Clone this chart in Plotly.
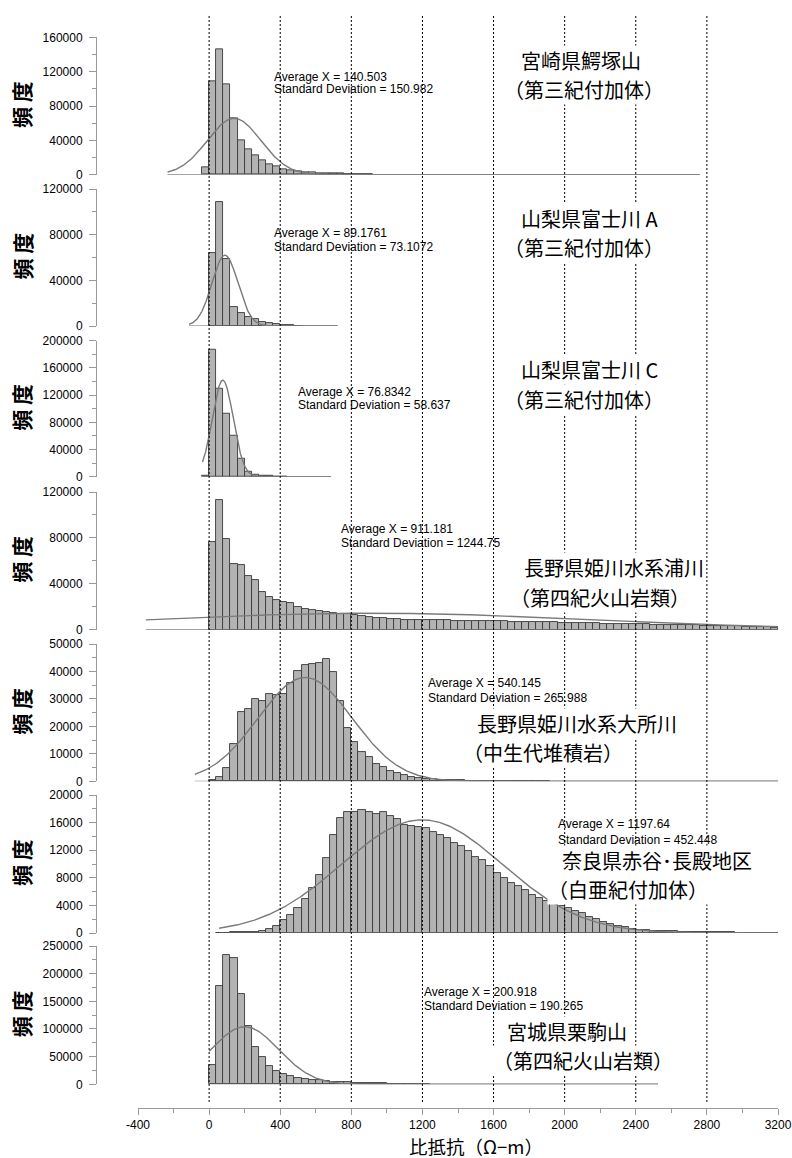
import numpy as np
import plotly.graph_objects as go

BIN_WIDTH = 40

# ---------------- data ----------------
# Panel 1  宮崎県鰐塚山（第三紀付加体）
p1_bin_start = -40
p1_counts = [8500, 108300, 145900, 104800, 65600, 40400, 29100, 22500, 16700, 12000,
             9300, 6200, 4600, 3500, 2700, 2300, 1900, 1600, 1300, 1100,
             900, 800, 700, 600]
p1_mean, p1_sd, p1_peak = 140.503, 150.982, 65600
p1_span = [-234, 2760]

# Panel 2  山梨県富士川 A（第三紀付加体）
p2_bin_start = 0
p2_counts = [63700, 108600, 59000, 17000, 11100, 8200, 5800, 3800, 2300, 1500,
             900, 600, 400]
p2_mean, p2_sd, p2_peak = 89.1761, 73.1072, 62000
p2_span = [-113, 723]

# Panel 3  山梨県富士川 C（第三紀付加体）
p3_bin_start = -40
p3_counts = [2000, 186200, 129900, 93100, 60300, 27000, 7400, 3400, 2000, 1000,
             600, 400]
p3_mean, p3_sd, p3_peak = 76.8342, 58.637, 142000
p3_span = [-37, 686]

# Panel 4  長野県姫川水系浦川（第四紀火山岩類）
p4_bin_start = 0
p4_counts = [76100, 112700, 78700, 57000, 56100, 46500, 43000, 33100, 28500, 25600,
             24100, 23200, 19800, 18000, 17100, 16300, 15700, 14200, 13900, 13400,
             12500, 11600, 11000, 10500, 9900, 9300, 9000, 8700, 8600, 8500,
             8400, 8300, 8200, 8100, 8000, 7900, 7800, 7700, 7600, 7500,
             7400, 7250, 7100, 7000, 6900, 6750, 6600, 6500, 6350, 6200,
             6100, 5950, 5800, 5700, 5550, 5400, 5300, 5150, 5000, 4900,
             4750, 4600, 4500, 4350, 4200, 4100, 3950, 3800, 3700, 3550,
             3400, 3300, 3150, 3000, 2850, 2700, 2500, 2300, 2000, 1400]
p4_mean, p4_sd, p4_peak = 911.181, 1244.75, 14400
p4_span = [-356, 3200]

# Panel 5  長野県姫川水系大所川（中生代堆積岩）
p5_bin_start = 0
p5_counts = [500, 1600, 4700, 13600, 25200, 26200, 29900, 29300, 31900, 31300,
             31800, 35700, 40100, 42500, 42700, 43000, 44700, 39800, 29100, 19500,
             14200, 10800, 8900, 6400, 5100, 3900, 2900, 2200, 1700, 1300,
             1000, 800, 600, 500, 400, 300, 250, 200, 150, 120,
             100, 80, 60, 50, 40, 30, 20, 15]
p5_mean, p5_sd, p5_peak = 540.145, 265.988, 37800
p5_span = [-80, 3200]

# Panel 6  奈良県赤谷･長殿地区（白亜紀付加体）
p6_bin_start = 40
p6_counts = [50, 50, 80, 100, 150, 200, 340, 530, 1060, 1830,
             2660, 3620, 4880, 6520, 8400, 10900, 14250, 16600, 17500, 17600,
             17800, 17500, 17200, 17500, 17000, 16500, 15650, 15550, 15400, 15150,
             14700, 14200, 13700, 13100, 12600, 11900, 11000, 10600, 9760, 8650,
             7900, 7200, 6810, 6230, 5510, 5020, 4640, 4300, 3900, 3570,
             3190, 2850, 2370, 1980, 1640, 1300, 1010, 820, 630, 480,
             390, 340, 290, 250, 220, 190, 170, 150, 130, 110,
             100, 90, 80, 70, 60, 50, 40, 30, 20]
p6_mean, p6_sd, p6_peak = 1197.64, 452.448, 16400
p6_span = [56, 3200]

# Panel 7  宮城県栗駒山（第四紀火山岩類）
p7_bin_start = 0
p7_counts = [34900, 177600, 233600, 227600, 163100, 105400, 68000, 48800, 33100, 24700,
             18100, 14400, 11400, 9600, 8400, 7200, 6000, 4800, 4200, 3600,
             3000, 2500, 2000, 1800, 1500, 1300, 1100, 900, 800, 700, 600]
p7_mean, p7_sd, p7_peak = 200.918, 190.265, 104000
p7_span = [0, 2525]

site_names = ["宮崎県鰐塚山", "山梨県富士川 A", "山梨県富士川 C", "長野県姫川水系浦川",
              "長野県姫川水系大所川", "奈良県赤谷･長殿地区", "宮城県栗駒山"]
site_geology = ["（第三紀付加体）", "（第三紀付加体）", "（第三紀付加体）", "（第四紀火山岩類）",
                "（中生代堆積岩）", "（白亜紀付加体）", "（第四紀火山岩類）"]

y_max = [160000, 120000, 200000, 120000, 50000, 20000, 250000]
y_dtick = [40000, 40000, 40000, 40000, 10000, 4000, 50000]

x_ticks = [-400, 0, 400, 800, 1200, 1600, 2000, 2400, 2800, 3200]
guide_lines = [0, 400, 800, 1200, 1600, 2000, 2400, 2800]

panels = [
    (p1_bin_start, p1_counts, p1_mean, p1_sd, p1_peak, p1_span),
    (p2_bin_start, p2_counts, p2_mean, p2_sd, p2_peak, p2_span),
    (p3_bin_start, p3_counts, p3_mean, p3_sd, p3_peak, p3_span),
    (p4_bin_start, p4_counts, p4_mean, p4_sd, p4_peak, p4_span),
    (p5_bin_start, p5_counts, p5_mean, p5_sd, p5_peak, p5_span),
    (p6_bin_start, p6_counts, p6_mean, p6_sd, p6_peak, p6_span),
    (p7_bin_start, p7_counts, p7_mean, p7_sd, p7_peak, p7_span),
]

# ---------------- layout geometry (pixels) ----------------
W, H = 792, 1158
ML, MR, MT, MB = 96, 14, 16, 50
PW = W - ML - MR
PH = H - MT - MB
X_LEFT_PX = 138  # pixel of x=-400


def px_x(px):
    return (px - ML) / PW


def px_y(py):
    return (H - MB - py) / PH


zero_px = [174.7, 326.0, 476.7, 629.7, 781.3, 933.0, 1084.3]
top_px = [37.3, 189.0, 340.7, 492.0, 644.0, 795.0, 946.0]

stats_pos = [(272.7, 76.7, 89.3), (272.7, 233.3, 247.3), (296.7, 391.7, 405.0),
             (340.0, 529.3, 542.7), (426.7, 683.3, 698.3), (556.7, 824.3, 840.0),
             (423.3, 991.7, 1006.0)]
# (ink left of 1st line, ink left of 2nd line, y of 1st line, y of 2nd line)
label_pos = [(521.7, 518.0, 61.7, 88.3), (522.0, 518.0, 220.0, 246.0),
             (522.0, 518.0, 371.0, 398.0), (525.0, 524.0, 570.0, 595.0),
             (478.3, 476.7, 725.0, 751.7), (562.7, 561.7, 861.7, 888.3),
             (508.3, 506.7, 1033.3, 1058.3)]
LABEL_GAP = 29.2

AX_COLOR = "#9a9a9a"
TICK_FONT = dict(family="Liberation Sans, Arial, sans-serif", size=12, color="black")
JP_FONT = "Noto Sans CJK JP"

fig = go.Figure()
layout = dict(
    width=W, height=H,
    margin=dict(l=ML, r=MR, t=MT, b=MB, autoexpand=False),
    paper_bgcolor="white", plot_bgcolor="rgba(0,0,0,0)",
    showlegend=False, bargap=0,
    xaxis=dict(domain=[px_x(X_LEFT_PX), 1.0], range=[-400, 3200], anchor="free", position=0,
               showline=True, linecolor=AX_COLOR, linewidth=1, ticks="outside", ticklen=6,
               tickcolor=AX_COLOR, tickvals=x_ticks, ticktext=[str(v) for v in x_ticks],
               showgrid=False, zeroline=False, tickfont=TICK_FONT,
               minor=dict(dtick=200, tick0=0, ticks="outside", ticklen=4,
                          tickcolor=AX_COLOR, showgrid=False)),
)

annotations = []
for i, (b0, counts, mu, sd, peak, span) in enumerate(panels):
    yname = "y" if i == 0 else f"y{i+1}"
    lname = "yaxis" if i == 0 else f"yaxis{i+1}"
    centers = [b0 + BIN_WIDTH * k + BIN_WIDTH / 2 for k in range(len(counts))]
    fig.add_trace(go.Scatter(x=span, y=[0, 0], mode="lines", xaxis="x", yaxis=yname,
                             line=dict(color="#6a6a6a", width=1), hoverinfo="skip"))
    fig.add_trace(go.Bar(x=centers, y=counts, width=BIN_WIDTH, xaxis="x", yaxis=yname,
                         marker=dict(color="#b3b3b3", line=dict(color="#3a3a3a", width=0.9))))
    xs = np.linspace(span[0], span[1], 600)
    ys = peak * np.exp(-0.5 * ((xs - mu) / sd) ** 2)
    fig.add_trace(go.Scatter(x=xs, y=ys, mode="lines", xaxis="x", yaxis=yname,
                             line=dict(color="#7a7a7a", width=1.4), hoverinfo="skip"))
    layout[lname] = dict(
        domain=[px_y(zero_px[i]), px_y(top_px[i])], range=[0, y_max[i]],
        anchor="free", position=0, showline=True, linecolor=AX_COLOR, linewidth=1,
        ticks="outside", ticklen=7, tickcolor=AX_COLOR, dtick=y_dtick[i], tick0=0,
        tickformat="d", showgrid=False, zeroline=False, tickfont=TICK_FONT,
        ticklabelstandoff=4,
        minor=dict(dtick=y_dtick[i] / 2, tick0=0, ticks="outside", ticklen=4,
                   tickcolor=AX_COLOR, showgrid=False),
    )
    # y title
    annotations.append(dict(xref="paper", yref="paper", x=px_x(21.0),
                            y=px_y((zero_px[i] + top_px[i]) / 2 - 1), text="<b>頻 度</b>",
                            textangle=-90, showarrow=False, xanchor="center", yanchor="middle",
                            font=dict(family=JP_FONT, size=21, color="black")))
    # statistics
    sx, sy1, sy2 = stats_pos[i]
    annotations.append(dict(xref="paper", yref="paper", x=px_x(sx), y=px_y(sy1),
                            text=f"Average X = {mu:g}", showarrow=False, xanchor="left",
                            yanchor="middle", borderpad=0,
                            font=dict(family="Liberation Sans, Arial", size=12, color="black")))
    annotations.append(dict(xref="paper", yref="paper", x=px_x(sx), y=px_y(sy2),
                            text=f"Standard Deviation = {sd:g}", showarrow=False, xanchor="left",
                            yanchor="middle", borderpad=0,
                            font=dict(family="Liberation Sans, Arial", size=12, color="black")))
    # site label (two separate lines on white boxes)
    lx1, lx2, ly1, ly2 = label_pos[i]
    mid = (ly1 + ly2) / 2
    annotations.append(dict(xref="paper", yref="paper", x=px_x(lx1 - 2), y=px_y(mid - LABEL_GAP / 2),
                            text=site_names[i], showarrow=False, xanchor="left", yanchor="middle",
                            bgcolor="white", borderpad=0,
                            font=dict(family=JP_FONT, size=20, color="black")))
    annotations.append(dict(xref="paper", yref="paper", x=px_x(lx2 - 15), y=px_y(mid + LABEL_GAP / 2),
                            text=site_geology[i], showarrow=False, xanchor="left", yanchor="middle",
                            bgcolor="white", borderpad=0,
                            font=dict(family=JP_FONT, size=20, color="black")))

# x title
annotations.append(dict(xref="paper", yref="paper", x=px_x(476), y=px_y(1146),
                        text="比抵抗（Ω−m）", showarrow=False, xanchor="center", yanchor="middle",
                        font=dict(family=JP_FONT, size=18.5, color="black")))

shapes = []
for v in guide_lines:
    shapes.append(dict(type="line", xref="x", yref="paper", x0=v, x1=v,
                       y0=px_y(1102), y1=1.0, layer="above",
                       line=dict(color="black", width=1, dash="2px,2px")))

layout["annotations"] = annotations
layout["shapes"] = shapes
fig.update_layout(**layout)

fig.write_html("out.html", config={"displayModeBar": False},
               post_script="document.body.style.margin='0';")
